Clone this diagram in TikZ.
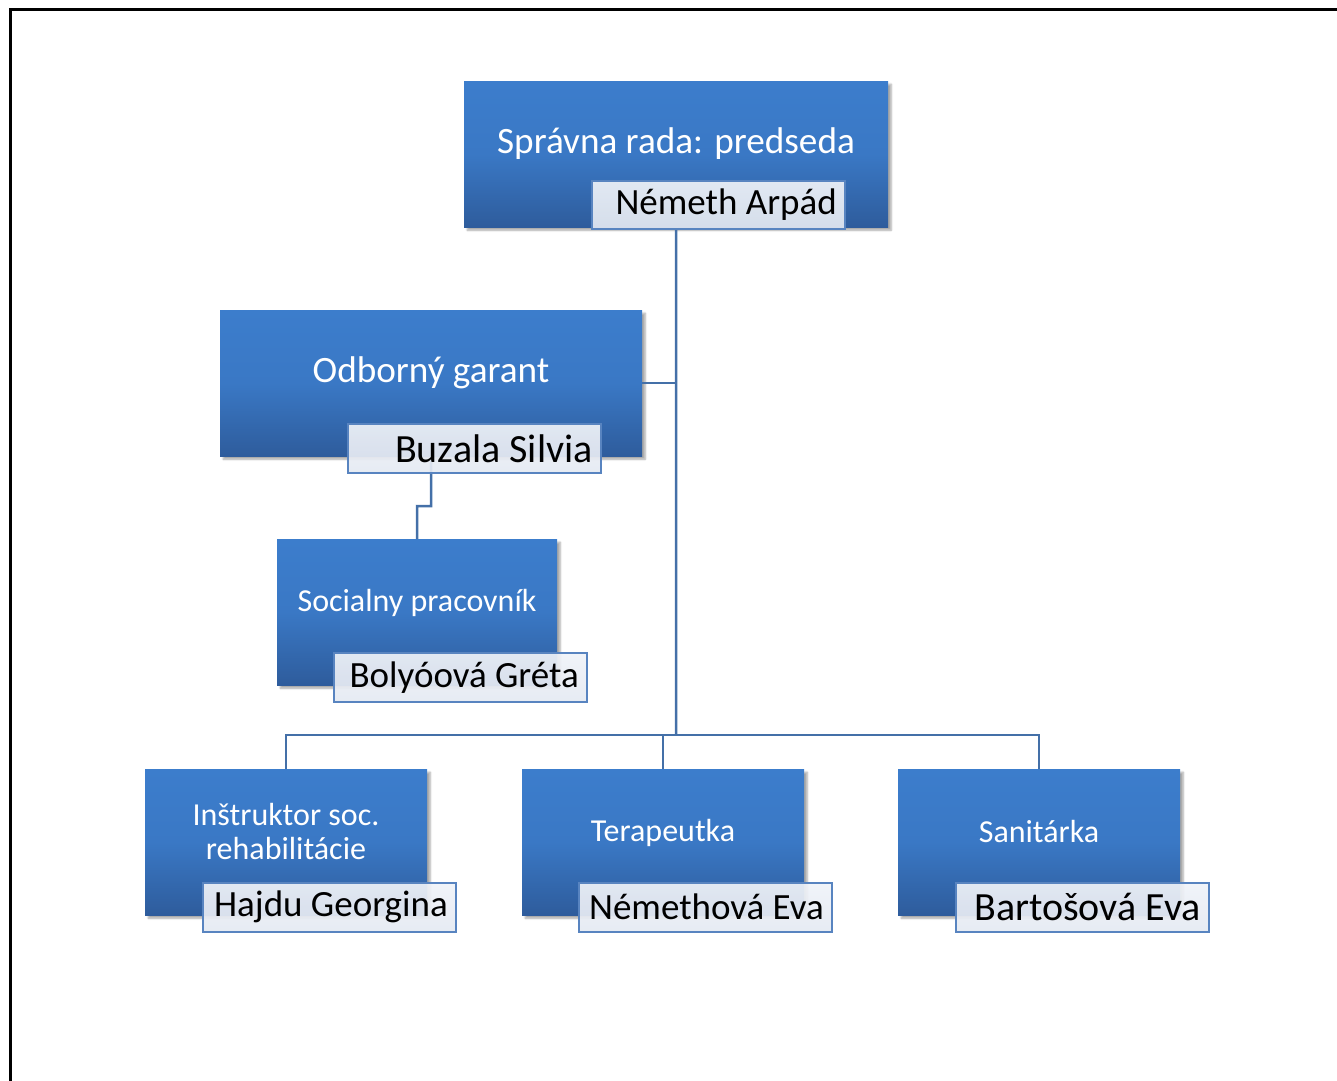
\documentclass[tikz,border=0pt]{standalone}
\usepackage{fontspec}
\setmainfont{Carlito}
\usetikzlibrary{shadows.blur}
\definecolor{btop}{RGB}{60,125,204}
\definecolor{bbot}{RGB}{46,92,156}
\definecolor{conn}{RGB}{68,112,168}
\definecolor{nborder}{RGB}{88,132,192}
\definecolor{ntop}{RGB}{240,243,248}
\definecolor{nbot}{RGB}{228,233,242}
\newcommand{\rname}[1]{\makebox[237pt][r]{#1}}
\tikzset{
  rolebox/.style={rectangle, anchor=north west, inner sep=0pt,
    top color=btop, bottom color=bbot, middle color=btop!85!bbot, draw=none,
    blur shadow={shadow xshift=3pt, shadow yshift=-3pt, shadow blur steps=6, shadow opacity=35}},
  namebox/.style={rectangle, anchor=north west, inner xsep=8pt, inner ysep=0pt,
    top color=ntop, bottom color=nbot, fill opacity=0.92, text opacity=1,
    draw=nborder, line width=1.5pt, text=black,
    font=\fontsize{37}{41}\selectfont},
  bignamebox/.style={namebox, font=\fontsize{40}{44}\selectfont},
  bigtitle/.style={text=white, font=\fontsize{37.2}{42}\selectfont, inner sep=0pt},
  smalltitle/.style={text=white, font=\fontsize{32}{34}\selectfont, inner sep=0pt, align=center},
  link/.style={draw=conn, line width=2.5pt},
}
\begin{document}
\begin{tikzpicture}[x=1pt,y=-1pt]
\useasboundingbox (0,0) rectangle (1337,1080);
% frame
\draw[line width=3pt, black] (10,1085) -- (10,9) -- (1345,9);

% boxes (no text)
\node[rolebox, minimum width=424pt, minimum height=146pt] (b1) at (464,81) {};
\node[rolebox, minimum width=422pt, minimum height=146pt] (b2) at (220,310) {};
\node[rolebox, minimum width=280pt, minimum height=146pt] (b3) at (277,539) {};
\node[rolebox, minimum width=282pt, minimum height=146pt] (b4) at (145,769) {};
\node[rolebox, minimum width=282pt, minimum height=146pt] (b5) at (522,769) {};
\node[rolebox, minimum width=282pt, minimum height=146pt] (b6) at (898,769) {};

% connectors
\coordinate (bus) at (676,735);
\coordinate (k1) at (431,506);
\coordinate (k2) at (417,506);
\draw[link] (b1.south) -- (bus);
\draw[link] (b2.east) -- (b2.east -| b1.south);
\draw[link] (b2.south) -- (k1) -- (k2) -- (b3.north);
\draw[link] (b4.north) |- (bus);
\draw[link] (b6.north) |- (bus);
\draw[link] (b5.north) -- (b5.north |- bus);

% titles
\node[bigtitle] (t1) at (676,143.5) {Správna rada: predseda};
\node[bigtitle] (t2) at (431,373) {Odborný garant};
\node[smalltitle] (t3) at (417,603) {Socialny pracovník};
\node[smalltitle] (t4) at (286,831) {Inštruktor soc.\\rehabilitácie};
\node[smalltitle] (t5) at (663,833) {Terapeutka};
\node[smalltitle] (t6) at (1039,831) {Sanitárka};

% name boxes
\node[namebox, minimum height=48pt] (n1) at (591,180) {\rname{Németh Arpád}};
\node[bignamebox, minimum height=49pt] (n2) at (347,423) {\rname{Buzala Silvia}};
\node[namebox, minimum height=49pt] (n3) at (333,652) {\rname{Bolyóová Gréta}};
\node[namebox, minimum height=49pt] (n4) at (202,882) {\rname{Hajdu Georgina}};
\node[namebox, minimum height=49pt] (n5) at (578,882) {\rname{Némethová Eva}};
\node[bignamebox, minimum height=49pt] (n6) at (955,882) {\rname{Bartošová Eva}};
\end{tikzpicture}
\end{document}
